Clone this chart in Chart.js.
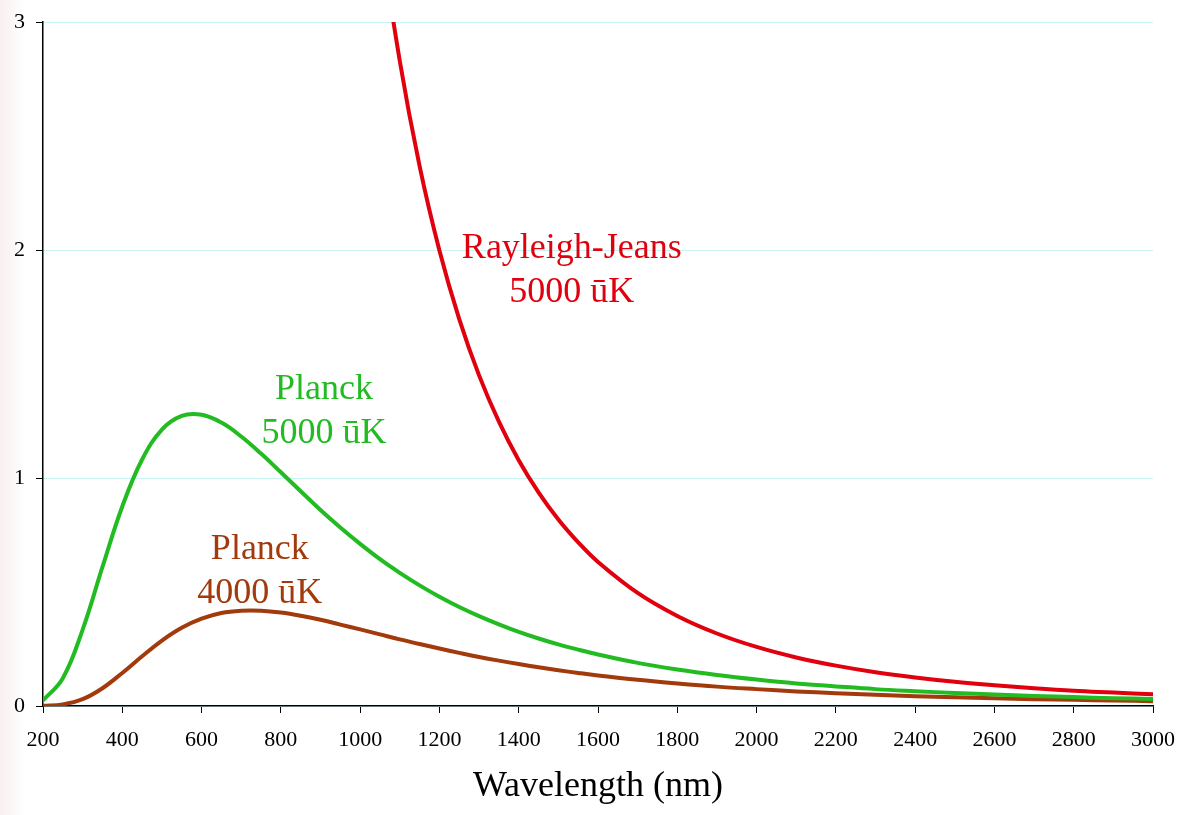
<!DOCTYPE html>
<html>
<head>
<meta charset="utf-8">
<script src="https://cdn.jsdelivr.net/npm/chart.js@4/dist/chart.umd.min.js"></script>
<style>
html,body{margin:0;padding:0;background:#fff;}
#wrap{width:1177px;height:815px;position:relative;}
</style>
</head>
<body>
<div id="wrap"><canvas id="c" width="1177" height="815"></canvas></div>
<script>
// Wavelengths (nm)
const wavelengths = [200,250,300,350,400,450,500,550,600,650,700,750,800,850,900,950,1000,1050,1100,1150,1200,1250,1300,1350,1400,1450,1500,1550,1600,1700,1800,1900,2000,2100,2200,2300,2400,2500,2600,2700,2800,2900,3000];
// Planck 5000 K
const planck5000 = [0.024,0.122,0.335,0.610,0.875,1.081,1.212,1.272,1.277,1.243,1.182,1.107,1.025,0.942,0.860,0.783,0.711,0.644,0.584,0.529,0.479,0.434,0.394,0.358,0.325,0.296,0.270,0.247,0.226,0.189,0.160,0.136,0.116,0.099,0.086,0.074,0.065,0.057,0.050,0.044,0.039,0.034,0.031];
// Planck 4000 K
const planck4000 = [0.001,0.007,0.030,0.078,0.145,0.218,0.287,0.343,0.383,0.408,0.418,0.418,0.410,0.396,0.378,0.357,0.336,0.314,0.292,0.272,0.252,0.233,0.215,0.199,0.184,0.170,0.157,0.145,0.134,0.115,0.099,0.085,0.074,0.064,0.056,0.049,0.043,0.038,0.034,0.030,0.027,0.024,0.021];
// Rayleigh-Jeans 5000 K (null where not drawn)
const rayleighJeans = [null,null,null,null,null,null,null,null,null,null,null,null,null,null,null,null,4.142,3.408,2.829,2.368,1.998,1.697,1.450,1.247,1.078,0.937,0.818,0.718,0.632,0.496,0.395,0.318,0.259,0.213,0.177,0.148,0.125,0.106,0.091,0.078,0.067,0.059,0.051];
// Axis ticks
const xMin = 200, xMax = 3000, xStep = 200;
const yMin = 0, yMax = 3, yStep = 1;
const xTitle = 'Wavelength (nm)';

const RED = '#e0000e', GREEN = '#22bb22', BROWN = '#a23a0c';
const SERIF = '"Liberation Serif","Times New Roman",serif';

function pts(vals){ return wavelengths.map((w,i)=>({x:w,y:vals[i]})); }

const curveLabels = [
  {lines:['Rayleigh-Jeans','5000 \u016bK'], x:1534, y:1.965, color:RED},
  {lines:['Planck','5000 \u016bK'], x:909, y:1.346, color:GREEN},
  {lines:['Planck','4000 \u016bK'], x:747, y:0.645, color:BROWN}
];

const labelPlugin = {
  id:'curveLabels',
  afterDatasetsDraw(chart){
    const ctx = chart.ctx, xs = chart.scales.x, ys = chart.scales.y;
    ctx.save();
    ctx.font = '36px ' + SERIF;
    ctx.textAlign = 'center';
    ctx.textBaseline = 'alphabetic';
    curveLabels.forEach(l=>{
      const px = xs.getPixelForValue(l.x), py = ys.getPixelForValue(l.y);
      ctx.fillStyle = l.color;
      l.lines.forEach((t,i)=>ctx.fillText(t, px, py + i*44));
    });
    ctx.restore();
  }
};

const bgPlugin = {
  id:'bg',
  beforeDraw(chart){
    const ctx = chart.ctx;
    ctx.save();
    ctx.fillStyle = '#fff';
    ctx.fillRect(0,0,chart.width,chart.height);
    const g = ctx.createLinearGradient(0,0,26,0);
    g.addColorStop(0,'#f8f0f0');
    g.addColorStop(1,'rgba(255,255,255,1)');
    ctx.fillStyle = g;
    ctx.fillRect(0,0,26,chart.height);
    ctx.restore();
  }
};

const plain = v => String(v);

new Chart(document.getElementById('c'), {
  type:'line',
  data:{
    datasets:[
      {label:'Rayleigh-Jeans 5000', data:pts(rayleighJeans), borderColor:RED, borderWidth:4, pointRadius:0, tension:0.4, fill:false},
      {label:'Planck 5000', data:pts(planck5000), borderColor:GREEN, borderWidth:4, pointRadius:0, tension:0.4, fill:false},
      {label:'Planck 4000', data:pts(planck4000), borderColor:BROWN, borderWidth:4, pointRadius:0, tension:0.4, fill:false}
    ]
  },
  options:{
    responsive:false,
    animation:false,
    devicePixelRatio:1,
    layout:{padding:{left:0,right:24,top:22,bottom:7}},
    plugins:{legend:{display:false}, tooltip:{enabled:false}},
    scales:{
      x:{
        type:'linear', min:xMin, max:xMax,
        afterFit(s){ s.height = 102; s.paddingLeft = 0; s.paddingRight = 0; },
        ticks:{stepSize:xStep, callback:plain, color:'#000', font:{family:SERIF, size:22}, padding:14, maxRotation:0, autoSkip:false},
        grid:{drawOnChartArea:false, drawTicks:true, tickLength:7, tickColor:'#000'},
        border:{color:'#000', width:1.5},
        title:{display:true, text:xTitle, color:'#000', font:{family:SERIF, size:36}, padding:0}
      },
      y:{
        type:'linear', min:yMin, max:yMax,
        afterFit(s){ s.width = 43; s.paddingTop = 0; s.paddingBottom = 0; },
        ticks:{stepSize:yStep, callback:plain, color:'#000', font:{family:SERIF, size:22}, padding:11},
        grid:{color:'#c8f4f4', lineWidth:1, drawTicks:true, tickLength:7, tickColor:'#000'},
        border:{color:'#000', width:1.5}
      }
    }
  },
  plugins:[bgPlugin, labelPlugin]
});
</script>
</body>
</html>
